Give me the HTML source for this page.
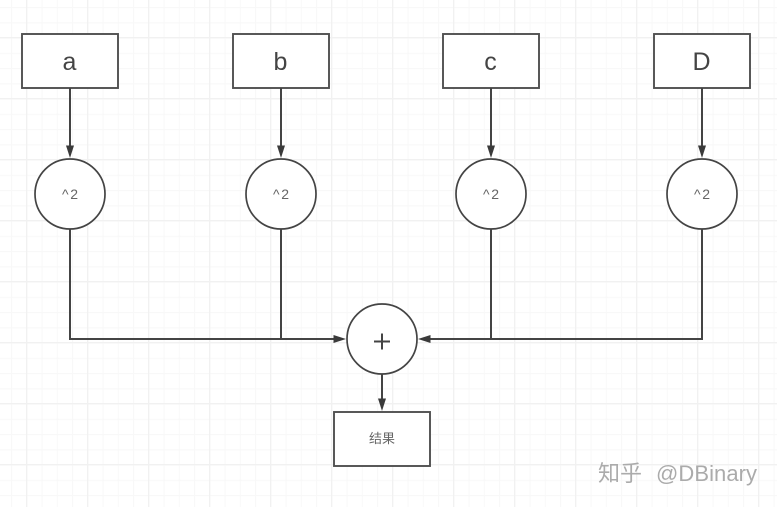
<!DOCTYPE html>
<html>
<head>
<meta charset="utf-8">
<style>
html,body{margin:0;padding:0;background:#fff}
svg{display:block}
text{font-family:"Liberation Sans","Noto Sans CJK SC",sans-serif}
</style>
</head>
<body>
<svg width="777" height="507" viewBox="0 0 777 507" xmlns="http://www.w3.org/2000/svg">
<defs>
<pattern id="minor" x="11" y="7" width="15.25" height="15.25" patternUnits="userSpaceOnUse">
<path d="M0.5 0V15.25M0 0.5H15.25" stroke="#f8f8f8" stroke-width="1.2" fill="none"/>
</pattern>
<pattern id="major" x="26" y="37" width="61" height="61" patternUnits="userSpaceOnUse">
<path d="M0.5 0V61M0 0.5H61" stroke="#f1f1f1" stroke-width="1.6" fill="none"/>
</pattern>
</defs>
<rect width="777" height="507" fill="#fff"/>
<rect width="777" height="507" fill="url(#minor)"/>
<rect width="777" height="507" fill="url(#major)"/>

<g fill="#fff" stroke="#505050" stroke-width="1.9">
<rect x="22" y="34" width="96" height="54"/>
<rect x="233" y="34" width="96" height="54"/>
<rect x="443" y="34" width="96" height="54"/>
<rect x="654" y="34" width="96" height="54"/>
<rect x="334" y="412" width="96" height="54"/>
</g>
<g fill="#fff" stroke="#444" stroke-width="1.7">
<circle cx="70" cy="194" r="35"/>
<circle cx="281" cy="194" r="35"/>
<circle cx="491" cy="194" r="35"/>
<circle cx="702" cy="194" r="35"/>
<circle cx="382" cy="339" r="35"/>
</g>

<g fill="none" stroke="#444" stroke-width="2">
<path d="M70 88V150M281 88V150M491 88V150M702 88V150"/>
<path d="M70 229V339H338M281 229V339M491 229V339M702 229V339H426"/>
<path d="M382 374V403"/>
</g>
<g fill="#3a3a3a">
<path d="M70 158L66 145.500L74 145.500Z"/>
<path d="M281 158L277 145.500L285 145.500Z"/>
<path d="M491 158L487 145.500L495 145.500Z"/>
<path d="M702 158L698 145.500L706 145.500Z"/>
<path d="M346 339L333.500 335L333.500 343Z"/>
<path d="M418 339L430.500 335L430.500 343Z"/>
<path d="M382 411L378 398.500L386 398.500Z"/>
</g>

<g fill="#444" text-anchor="middle">
<text x="69.500" y="70" font-size="25">a</text>
<text x="280.500" y="70" font-size="25">b</text>
<text x="490.500" y="70" font-size="25">c</text>
<text x="701.500" y="70" font-size="25">D</text>
</g>
<g fill="#666" text-anchor="middle">
<text x="70" y="199" font-size="14" textLength="16">^2</text>
<text x="281" y="199" font-size="14" textLength="16">^2</text>
<text x="491" y="199" font-size="14" textLength="16">^2</text>
<text x="702" y="199" font-size="14" textLength="16">^2</text>
<text x="382" y="443" font-size="13">结果</text>
</g>
<path d="M374 341.500H390M382 333.500V349.500" stroke="#444" stroke-width="2" fill="none"/>

<text x="598" y="481" font-size="22" fill="#ababab" font-family="Noto Sans CJK SC">知乎</text>
<text x="656" y="481" font-size="22" fill="#ababab" textLength="101">@DBinary</text>
</svg>
</body>
</html>
